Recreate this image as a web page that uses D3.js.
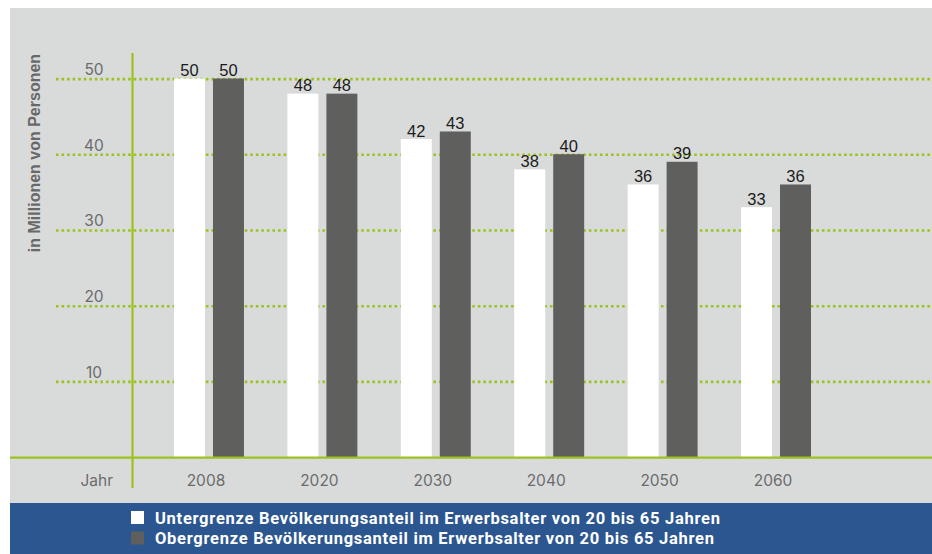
<!DOCTYPE html>
<html>
<head>
<meta charset="utf-8">
<script src="https://cdn.jsdelivr.net/npm/d3@7"></script>
<style>
  html, body { margin: 0; padding: 0; background: #ffffff; }
  svg { display: block; }
</style>
</head>
<body>
<svg id="chart" width="932" height="554"></svg>
<script>
// Erwerbsbevölkerung (20–65 Jahre) in Millionen
const years = ["2008", "2020", "2030", "2040", "2050", "2060"];
const lowerBound = [50, 48, 42, 38, 36, 33];
const upperBound = [50, 48, 43, 40, 39, 36];
const seriesKeys = ["lower", "upper"];
const seriesLabels = [
  "Untergrenze Bevölkerungsanteil im Erwerbsalter von 20 bis 65 Jahren",
  "Obergrenze Bevölkerungsanteil im Erwerbsalter von 20 bis 65 Jahren"
];
const yTicks = [10, 20, 30, 40, 50];

const colors = { lower: "#ffffff", upper: "#5f5f5d" };
const green = "#9cc31d";
const axisFont = "Inter, 'Noto Sans', sans-serif";
const valueFont = "'Liberation Sans', Arial, sans-serif";

const rows = years.map((y, i) => ({ year: y, lower: lowerBound[i], upper: upperBound[i] }));

const svg = d3.select("#chart");

// background panel and legend band
svg.append("rect").attr("x", 10).attr("y", 8).attr("width", 922).attr("height", 495).attr("fill", "#d9dbdb");
svg.append("rect").attr("x", 10).attr("y", 503).attr("width", 922).attr("height", 51).attr("fill", "#2c5690");

const y = d3.scaleLinear().domain([0, 50]).range([457, 78.5]);
const x0 = d3.scaleBand().domain(years).range([174, 811]).paddingInner(0.383).paddingOuter(0);
const x1 = d3.scaleBand().domain(seriesKeys).range([0, x0.bandwidth()]).paddingInner(0.205).paddingOuter(0);

// dotted gridlines
svg.append("g").selectAll("line").data(yTicks).join("line")
  .attr("x1", 56).attr("x2", 932)
  .attr("y1", d => y(d) + 0.6).attr("y2", d => y(d) + 0.6)
  .attr("stroke", green).attr("stroke-width", 2.6)
  .attr("stroke-dasharray", "2.6,2.95");

// y tick labels
svg.append("g").selectAll("text").data(yTicks).join("text")
  .attr("x", 94).attr("y", d => y(d) - 3.5)
  .attr("text-anchor", "middle")
  .attr("font-family", axisFont).attr("font-size", 15.5)
  .attr("fill", "#6b6b6b")
  .text(d => d);

// y axis title
svg.append("text")
  .attr("transform", "translate(40,153) rotate(-90)")
  .attr("text-anchor", "middle")
  .attr("font-family", "'Liberation Sans', Arial, sans-serif")
  .attr("font-size", 16).attr("font-weight", "bold")
  .attr("fill", "#686868")
  .text("in Millionen von Personen");

// bars
const groups = svg.append("g").selectAll("g").data(rows).join("g")
  .attr("transform", d => `translate(${x0(d.year)},0)`);

groups.selectAll("rect").data(d => seriesKeys.map(k => ({ key: k, value: d[k] }))).join("rect")
  .attr("x", d => x1(d.key))
  .attr("width", x1.bandwidth())
  .attr("y", d => y(d.value))
  .attr("height", d => y(0) - y(d.value))
  .attr("fill", d => colors[d.key]);

groups.selectAll("text").data(d => seriesKeys.map(k => ({ key: k, value: d[k] }))).join("text")
  .attr("x", d => x1(d.key) + x1.bandwidth() / 2)
  .attr("y", d => y(d.value) - 2.5)
  .attr("text-anchor", "middle")
  .attr("font-family", valueFont).attr("font-size", 16.5)
  .attr("fill", "#1c1c1c")
  .text(d => d.value);

// axes lines
svg.append("line").attr("x1", 10).attr("x2", 932).attr("y1", 457.6).attr("y2", 457.6)
  .attr("stroke", green).attr("stroke-width", 2.4);
svg.append("line").attr("x1", 132.5).attr("x2", 132.5).attr("y1", 53).attr("y2", 488)
  .attr("stroke", green).attr("stroke-width", 2.2);

// x labels
svg.append("g").selectAll("text").data(years).join("text")
  .attr("x", d => x0(d) + x0.bandwidth() / 2 - 3)
  .attr("y", 485.5)
  .attr("text-anchor", "middle")
  .attr("font-family", axisFont).attr("font-size", 15.5)
  .attr("fill", "#6b6b6b")
  .text(d => d);

svg.append("text")
  .attr("x", 113).attr("y", 485.5)
  .attr("text-anchor", "end")
  .attr("font-family", axisFont).attr("font-size", 15.5)
  .attr("fill", "#6b6b6b")
  .text("Jahr");

// legend
const legendTextWidth = [565, 559];
const legend = svg.append("g").selectAll("g").data(seriesKeys).join("g")
  .attr("transform", (d, i) => `translate(131,${511 + i * 20.5})`);
legend.append("rect").attr("width", 13).attr("height", 13).attr("fill", d => colors[d]);
legend.append("text")
  .attr("x", 24).attr("y", 12.5)
  .attr("font-family", "Roboto, 'Noto Sans', sans-serif")
  .attr("font-size", 16.5).attr("font-weight", "bold")
  .attr("fill", "#ffffff")
  .attr("textLength", (d, i) => legendTextWidth[i])
  .attr("lengthAdjust", "spacing")
  .text((d, i) => seriesLabels[i]);
</script>
</body>
</html>
